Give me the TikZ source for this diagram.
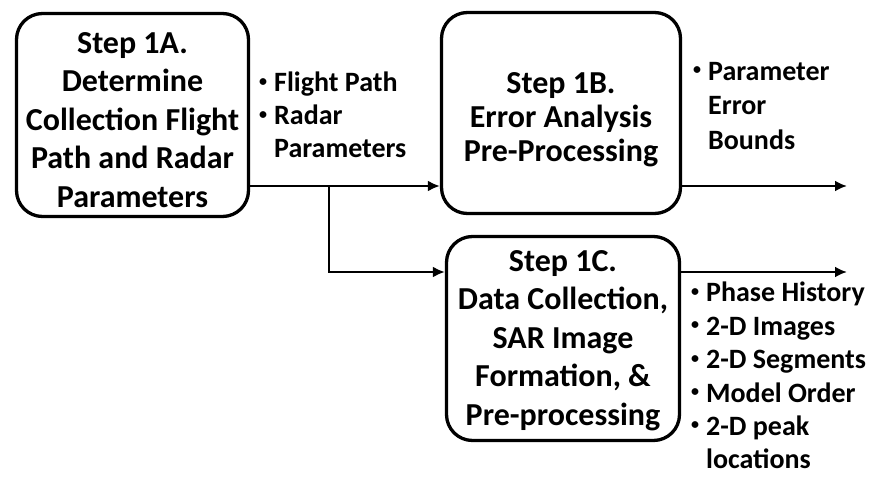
\documentclass[tikz,border=0pt]{standalone}
\usepackage{fontspec}
\setmainfont{Carlito}
\usetikzlibrary{arrows.meta}
\newcommand{\dotitem}{\raisebox{0.2em}{\fontsize{16}{16}\selectfont\textbullet}\hspace{7pt}}
\newcommand{\dotskip}{\phantom{\dotitem}}
\begin{document}
\begin{tikzpicture}[x=1pt,y=-1pt,
  stepbox/.style={draw,line width=3.3pt,rounded corners=26pt},
  steptext/.style={align=center,inner sep=0pt,
    font=\bfseries\fontsize{32}{38.5}\selectfont},
  outtext/.style={align=left,anchor=north west,inner sep=0pt,
    font=\bfseries\fontsize{28}{33.4}\selectfont},
  flow/.style={line width=2.6pt,-{Latex[length=12pt,width=11pt]}}]
\useasboundingbox (0,0) rectangle (877,476);

% steps
\node[stepbox,minimum width=232pt,minimum height=203pt] (A) at (132.5,115) {};
\node[stepbox,minimum width=239pt,minimum height=201pt] (B) at (561,113) {};
\node[stepbox,minimum width=233pt,minimum height=204pt] (C) at (563,338.5) {};
\node[steptext,yshift=-5pt] (Atxt) at (A)
  {Step 1A.\\Determine\\Collection Flight\\Path and Radar\\Parameters};
\node[steptext,yshift=-7pt,font=\bfseries\fontsize{32}{34}\selectfont] (Btxt) at (B)
  {Step 1B.\\Error Analysis\\Pre-Processing};
\node[steptext,yshift=-2pt] (Ctxt) at (C)
  {Step 1C.\\Data Collection,\\SAR Image\\Formation, \&\\Pre-processing};

% outputs
\node[outtext,font=\bfseries\fontsize{28}{33}\selectfont] (fpath) at (259,72)
  {\dotitem Flight Path\\\dotitem Radar\\\dotskip Parameters};
\node[outtext,font=\bfseries\fontsize{28}{34.5}\selectfont] (bounds) at (693,62)
  {\dotitem Parameter\\\dotskip Error\\\dotskip Bounds};
\node[outtext] (prods) at (691,282)
  {\dotitem Phase History\\\dotitem 2-D Images\\\dotitem 2-D Segments\\
   \dotitem Model Order\\\dotitem 2-D peak\\\dotskip locations};

% connectors
\coordinate (split) at (329,186);
\coordinate (cy) at (0,272);
\coordinate (bend) at (847,186);
\coordinate (cend) at (847,272);
\draw[flow] (A.east |- split) -- (B.west |- split);
\draw[flow] (split) |- (C.west |- cy);
\draw[flow] (B.east |- bend) -- (bend);
\draw[flow] (C.east |- cend) -- (cend);
\end{tikzpicture}
\end{document}
